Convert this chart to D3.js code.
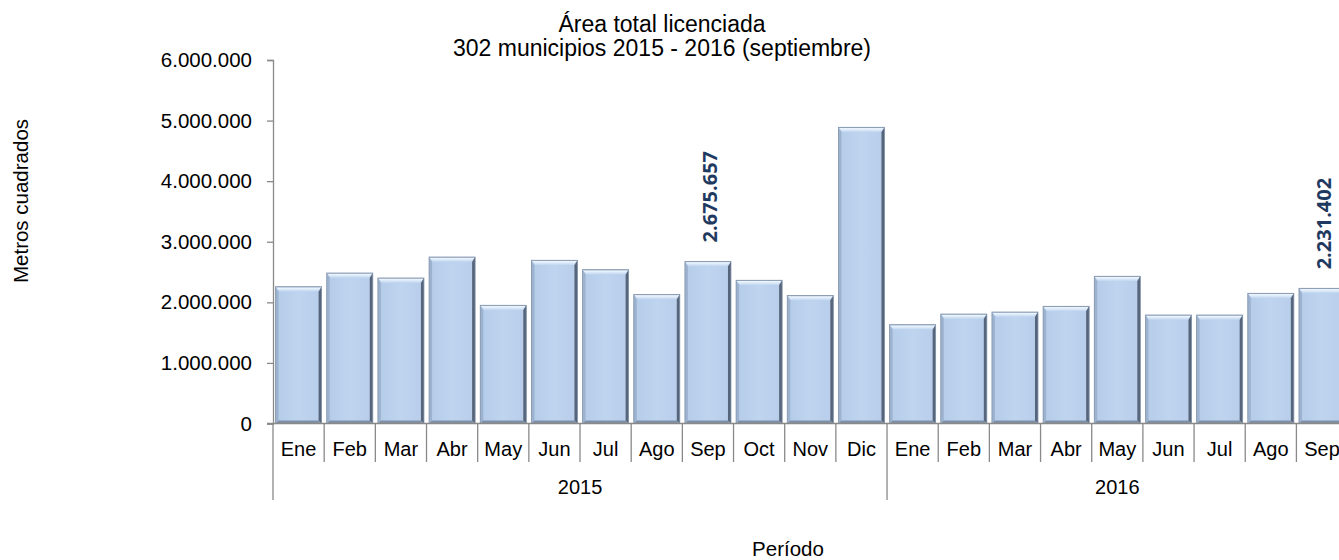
<!DOCTYPE html>
<html>
<head>
<meta charset="utf-8">
<script src="https://cdn.jsdelivr.net/npm/d3@7"></script>
<style>
  html, body { margin: 0; padding: 0; background: #ffffff; overflow: hidden; }
  svg { display: block; }
  text { font-family: "Liberation Sans", Arial, sans-serif; }
</style>
</head>
<body>
<svg id="chart" width="1339" height="560"></svg>
<script>
// ---------- data ----------
const years = ["2015", "2016"];
const months2015 = ["Ene","Feb","Mar","Abr","May","Jun","Jul","Ago","Sep","Oct","Nov","Dic"];
const months2016 = ["Ene","Feb","Mar","Abr","May","Jun","Jul","Ago","Sep"];
const values2015 = [2258000, 2484000, 2402000, 2748000, 1951000, 2694000, 2539000, 2130000, 2675657, 2364000, 2112000, 4889000];
const values2016 = [1631000, 1807000, 1840000, 1934000, 2430000, 1791000, 1791000, 2149000, 2231402];
const yTicks = [0, 1000000, 2000000, 3000000, 4000000, 5000000, 6000000];
const labelled = ["2015-Sep", "2016-Sep"];
const titleLines = ["Área total licenciada", "302 municipios 2015 - 2016 (septiembre)"];
const yTitle = "Metros cuadrados";
const xTitle = "Período";

// ---------- build rows ----------
const rows = [];
months2015.forEach((m, i) => rows.push({ key: "2015-" + m, year: "2015", month: m, value: values2015[i] }));
months2016.forEach((m, i) => rows.push({ key: "2016-" + m, year: "2016", month: m, value: values2016[i] }));

const locale = d3.formatLocale({ decimal: ",", thousands: ".", grouping: [3], currency: ["$", ""] });
const fmt = locale.format(",d");

const svg = d3.select("#chart");
const x0 = 273, step = 51.17;
const x = d3.scaleBand().domain(rows.map(d => d.key)).range([x0, x0 + step * rows.length]).paddingInner(0.1).paddingOuter(0.05);
const y = d3.scaleLinear().domain([0, 6000000]).range([423.5, 60]);
const axisColor = "#898989";

// ---------- defs ----------
const defs = svg.append("defs");
const gTop = defs.append("linearGradient").attr("id", "gTop").attr("x1", 0).attr("y1", 0).attr("x2", 0).attr("y2", 1);
gTop.append("stop").attr("offset", "0%").attr("stop-color", "#8ea6c4");
gTop.append("stop").attr("offset", "25%").attr("stop-color", "#eef6fe");
gTop.append("stop").attr("offset", "100%").attr("stop-color", "#bcd3ee");
const gFill = defs.append("linearGradient").attr("id", "gFill").attr("x1", 0).attr("y1", 0).attr("x2", 1).attr("y2", 0);
gFill.append("stop").attr("offset", "0%").attr("stop-color", "#b5cce9");
gFill.append("stop").attr("offset", "50%").attr("stop-color", "#bed4ef");
gFill.append("stop").attr("offset", "100%").attr("stop-color", "#b7cdea");

// ---------- y axis ----------
const yAxis = d3.axisLeft(y).tickValues(yTicks).tickFormat(fmt).tickSize(6).tickPadding(15);
const gy = svg.append("g").attr("transform", `translate(${x0},0)`).call(yAxis);
gy.select(".domain").attr("stroke", axisColor).attr("stroke-width", 1.3);
gy.selectAll(".tick line").attr("stroke", axisColor).attr("stroke-width", 1.3);
gy.selectAll(".tick text").style("font-family", "Liberation Sans, Arial, sans-serif").style("font-size", "20.5px").style("fill", "#000");

// ---------- bars ----------
const b = 4;
const bars = svg.append("g").selectAll("g").data(rows).join("g")
  .attr("transform", d => `translate(${x(d.key)},${y(d.value)})`);
bars.each(function(d) {
  const g = d3.select(this);
  const w = x.bandwidth();
  const h = y(0) - y(d.value);
  g.append("rect").attr("width", w).attr("height", h).attr("fill", "url(#gFill)");
  g.append("polygon").attr("points", `0,0 ${w},0 ${w-b},${b+1} ${b},${b+1}`).attr("fill", "url(#gTop)");
  g.append("polygon").attr("points", `0,0 ${b-1},${b+1} ${b-1},${h-b+1} 0,${h}`).attr("fill", "#9cb2cf");
  g.append("polygon").attr("points", `${w},0 ${w},${h} ${w-b+1},${h-b+1} ${w-b+1},${b+1}`).attr("fill", "#56657a");
  g.append("polygon").attr("points", `0,${h} ${b-1},${h-b+1} ${w-b+1},${h-b+1} ${w},${h}`).attr("fill", "#7f90a6");
  g.append("rect").attr("width", w).attr("height", h).attr("fill", "none").attr("stroke", "#8494aa").attr("stroke-width", 0.8);
});

// ---------- x axis (categories) ----------
const xEnd = x0 + step * rows.length;
svg.append("line").attr("x1", x0 - 6).attr("x2", xEnd).attr("y1", y(0)).attr("y2", y(0)).attr("stroke", axisColor).attr("stroke-width", 1.5);
const boundaries = d3.range(rows.length + 1).map(i => x0 + i * step);
svg.append("g").selectAll("line").data(boundaries).join("line")
  .attr("x1", d => d).attr("x2", d => d)
  .attr("y1", y(0))
  .attr("y2", (d, i) => (i === 0 || i === months2015.length || i === rows.length) ? 500 : 462)
  .attr("stroke", axisColor).attr("stroke-width", 1.3);

svg.append("g").selectAll("text").data(rows).join("text")
  .attr("x", (d, i) => x0 + i * step + step / 2)
  .attr("y", 456)
  .attr("text-anchor", "middle")
  .style("font-size", "20px").style("fill", "#000")
  .text(d => d.month);

const yearSpans = [
  { year: years[0], start: 0, end: months2015.length },
  { year: years[1], start: months2015.length, end: rows.length }
];
svg.append("g").selectAll("text").data(yearSpans).join("text")
  .attr("x", d => x0 + (d.start + d.end) / 2 * step)
  .attr("y", 494)
  .attr("text-anchor", "middle")
  .style("font-size", "20px").style("fill", "#000")
  .text(d => d.year);

// ---------- data labels ----------
svg.append("g").selectAll("text").data(rows.filter(d => labelled.includes(d.key))).join("text")
  .attr("transform", d => `translate(${x(d.key) + x.bandwidth() / 2 + 9},${y(d.value) - 19}) rotate(-90)`)
  .attr("text-anchor", "start")
  .style("font-family", "'Open Sans', sans-serif")
  .style("font-weight", "700")
  .style("font-size", "20px")
  .style("fill", "#1f3a60")
  .text(d => fmt(d.value));

// ---------- titles ----------
svg.append("g").selectAll("text").data(titleLines).join("text")
  .attr("x", 662).attr("y", (d, i) => 31.5 + i * 24)
  .attr("text-anchor", "middle")
  .style("font-size", "23px").style("fill", "#000")
  .text(d => d);

svg.append("text")
  .attr("transform", "translate(28,201) rotate(-90)")
  .attr("text-anchor", "middle")
  .style("font-size", "20.5px").style("fill", "#000")
  .text(yTitle);

svg.append("text")
  .attr("x", 788).attr("y", 556)
  .attr("text-anchor", "middle")
  .style("font-size", "20.5px").style("fill", "#000")
  .text(xTitle);
</script>
</body>
</html>
